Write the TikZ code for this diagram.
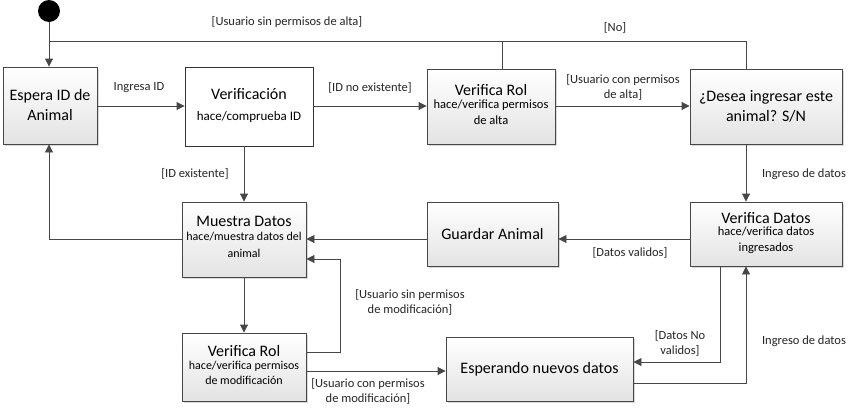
\documentclass[tikz,border=0pt]{standalone}
\usepackage{fontspec}
\setmainfont{Carlito}
\usetikzlibrary{arrows.meta,shadows}
\newcommand{\subtxt}[3]{{\fontsize{#1}{#2}\selectfont\begin{tabular}{@{}c@{}}#3\end{tabular}}}
\begin{document}
\begin{tikzpicture}[x=1pt,y=-1pt,
  line/.style={draw=black!72, line width=0.9pt},
  arr/.style={line, -{Triangle[length=8pt,width=8pt]}},
  box/.style={draw=black!72, line width=0.9pt, top color=white, bottom color=black!11,
    drop shadow={shadow xshift=1.5pt, shadow yshift=-1.5pt, opacity=0.25, fill=black!60},
    align=center, inner sep=2pt, font=\fontsize{16}{20}\selectfont},
  plainbox/.style={draw=black!80, line width=0.9pt, fill=white, align=center, inner sep=2pt,
    font=\fontsize{16}{20}\selectfont},
  lbl/.style={font=\fontsize{12.5}{15}\selectfont, text=black!85, align=center, inner sep=0pt}
]
\useasboundingbox (0,0) rectangle (856,415);
\fill[white] (0,0) rectangle (856,415);

% start
\node[circle, fill=black, minimum size=22pt, inner sep=0pt] (start) at (49,11) {};

% boxes
\node[box, minimum width=94pt, minimum height=77pt] (espera) at (50,105.5)
  {Espera ID de\\Animal};
\node[plainbox, minimum width=128pt, minimum height=79pt] (verif) at (249,106.5)
  {Verificación\\[1pt]\subtxt{13}{16}{hace/comprueba ID}};
\node[box, minimum width=128pt, minimum height=75pt] (rola) at (491,106.5)
  {Verifica Rol\\[1pt]\subtxt{12.5}{16}{hace/verifica permisos\\de alta}};
\node[box, minimum width=152pt, minimum height=75pt] (desea) at (766,106.5)
  {¿Desea ingresar este\\animal? S/N};
\node[box, minimum width=124pt, minimum height=75pt] (muestra) at (244,239.5)
  {Muestra Datos\\[1pt]\subtxt{12}{17.5}{hace/muestra datos del\\animal}};
\node[box, minimum width=131pt, minimum height=64pt] (guardar) at (492.5,234)
  {Guardar Animal};
\node[box, minimum width=152pt, minimum height=64pt] (vdatos) at (766,234)
  {Verifica Datos\\[0pt]\subtxt{12.5}{16}{hace/verifica datos\\ingresados}};
\node[box, minimum width=124pt, minimum height=68pt] (rolm) at (244,367)
  {Verifica Rol\\[0pt]\subtxt{12}{15}{hace/verifica permisos\\de modificación}};
\node[box, minimum width=187pt, minimum height=64pt] (esper) at (539.5,369)
  {Esperando nuevos datos};

% coordinates
\coordinate (topL) at (49,41);
\coordinate (topM) at (502,41);
\coordinate (topR) at (746,41);
\coordinate (leftB) at (49,239);
\coordinate (rmA) at (340,352);
\coordinate (rmB) at (340,259);
\coordinate (vdA) at (720,362);
\coordinate (ebA) at (746,383);

% connectors
\draw[arr] (start) -- (espera.north -| start);
\draw[line] (desea.north -| topR) -- (topR) -- (topL);
\draw[line] (rola.north -| topM) -- (topM);
\draw[arr] (espera.east |- 0,106) -- (verif.west |- 0,106);
\draw[arr] (verif.east |- 0,106) -- (rola.west |- 0,106);
\draw[arr] (rola.east |- 0,106) -- (desea.west |- 0,106);
\draw[arr] (verif.south -| muestra.north) -- (muestra.north);
\draw[arr] (desea.south -| topR) -- (vdatos.north -| topR);
\draw[arr] (vdatos.west |- 0,239) -- (guardar.east |- 0,239);
\draw[arr] (guardar.west |- 0,239) -- (muestra.east |- 0,239);
\draw[arr] (muestra.west |- leftB) -- (leftB) -- (espera.south -| leftB);
\draw[arr] (muestra.south) -- (rolm.north);
\draw[arr] (rolm.east |- rmA) -- (rmA) -- (rmB) -- (muestra.east |- rmB);
\draw[arr] (rolm.east |- 0,371) -- (esper.west |- 0,371);
\draw[arr] (vdatos.south -| vdA) -- (vdA) -- (esper.east |- vdA);
\draw[arr] (esper.east |- ebA) -- (ebA) -- (vdatos.south -| ebA);

% labels
\node[lbl] (l1) at (287,22) {[Usuario sin permisos de alta]};
\node[lbl] (l2) at (615,28) {[No]};
\node[lbl] (l3) at (139,88) {Ingresa ID};
\node[lbl] (l4) at (370,88) {[ID no existente]};
\node[lbl] (l5) at (623,87) {[Usuario con permisos\\de alta]};
\node[lbl] (l6) at (195,174) {[ID existente]};
\node[lbl] (l7) at (804,174) {Ingreso de datos};
\node[lbl] (l8) at (630,253) {[Datos validos]};
\node[lbl] (l9) at (410,302) {[Usuario sin permisos\\de modificación]};
\node[lbl] (l10) at (368,391) {[Usuario con permisos\\de modificación]};
\node[lbl] (l11) at (680,343) {[Datos No\\validos]};
\node[lbl] (l12) at (804,341) {Ingreso de datos};
\end{tikzpicture}
\end{document}
